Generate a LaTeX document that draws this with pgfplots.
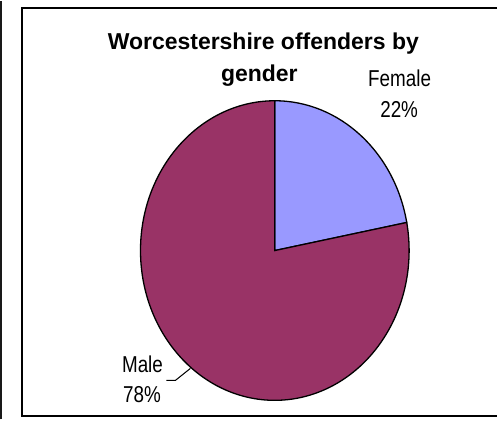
\documentclass[border=0pt]{standalone}
\usepackage{pgfplots}
\pgfplotsset{compat=1.18}
\usepackage{pgfplotstable}
\usepackage{fontspec}
\setmainfont{Liberation Sans}
\newfontfamily\labfont[FakeStretch=0.82]{Liberation Sans}
\definecolor{femalec}{HTML}{9999FF}
\definecolor{malec}{HTML}{993366}

% share of offenders by gender, percent
\pgfplotstableread{
label  value
Female 22
Male   78
}\gendertable
\pgfplotstablegetelem{0}{value}\of\gendertable
\pgfmathsetmacro{\femval}{\pgfplotsretval}
\pgfplotstablegetelem{1}{value}\of\gendertable
\pgfmathsetmacro{\maleval}{\pgfplotsretval}
\pgfmathsetmacro{\total}{\femval+\maleval}
\pgfmathsetmacro{\split}{90-360*\femval/\total}

\begin{document}
\begin{tikzpicture}
\begin{axis}[
    hide axis,
    scale only axis,
    width=498pt, height=419pt,
    xmin=0, xmax=498,
    ymin=0, ymax=419,
    clip=false
]
% frames
\draw[line width=1.8pt, black!90] (axis cs:1.2,0) -- (axis cs:1.2,419);
\draw[line width=2pt, black] (axis cs:498,412) -- (axis cs:22.5,412) -- (axis cs:22.5,3) -- (axis cs:498,3);
% pie slices
\filldraw[fill=femalec, draw=black, line width=1.3pt]
    (axis cs:275.5,169) -- (axis cs:275.5,319)
    arc[start angle=90, end angle=\split, x radius=134.5pt, y radius=150pt] -- cycle;
\filldraw[fill=malec, draw=black, line width=1.3pt]
    (axis cs:275.5,169) -- (axis cs:275.5,319)
    arc[start angle=90, end angle=\split+360, x radius=134.5pt, y radius=150pt] -- cycle;
% leader line
\draw[black, line width=1pt] (axis cs:167,39) -- (axis cs:176,39) -- (axis cs:191,51);
% title
\node[anchor=base, font=\fontsize{23}{27}\selectfont\bfseries] at (axis cs:264,370.5) {Worcestershire offenders by};
\node[anchor=base, font=\fontsize{23}{27}\selectfont\bfseries] at (axis cs:260,338) {gender};
% labels
\node[anchor=base, font=\fontsize{23}{27}\selectfont\labfont] at (axis cs:400.5,333) {Female};
\node[anchor=base, font=\fontsize{23}{27}\selectfont\labfont] at (axis cs:400,302) {22\%};
\node[anchor=base, font=\fontsize{23}{27}\selectfont\labfont] at (axis cs:143,47) {Male};
\node[anchor=base, font=\fontsize{23}{27}\selectfont\labfont] at (axis cs:142.5,17) {78\%};
\end{axis}
\end{tikzpicture}
\end{document}
